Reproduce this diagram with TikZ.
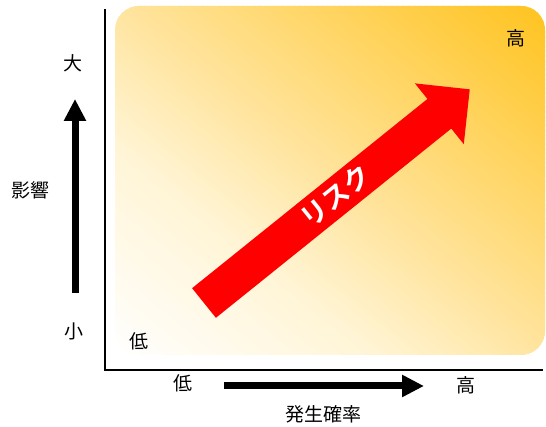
\documentclass[tikz,border=0pt]{standalone}
\usepackage{fontspec}
\setmainfont{Noto Sans CJK JP}
\newfontfamily\jpbold{Noto Sans CJK JP Bold}
\usetikzlibrary{arrows.meta}
\tikzset{
  lbl/.style={inner sep=0pt, font=\fontsize{19}{21}\selectfont},
  axisline/.style={line width=2.6pt, line cap=rect},
  dirarrow/.style={line width=7pt, -{Triangle[length=22pt,width=21pt]}},
}
\begin{document}
\begin{tikzpicture}[x=1pt,y=1pt]
\useasboundingbox (0,0) rectangle (546,427);
% background panel: diagonal gradient built from thin strips
\begin{scope}
  \clip[rounded corners=24pt] (115,72) rectangle (545,421);
  \fill[white] (115,72) rectangle (545,421);
  \begin{scope}[cm={430,0,0,349,(115,72)}]
    \foreach \i in {0,...,149}{
      \pgfmathsetmacro\tm{(\i+0.5)/150}
      \pgfmathsetmacro\ta{\i/150}
      \pgfmathsetmacro\tb{\i==149 ? 1.3 : (\i+1.6)/150}
      \pgfmathtruncatemacro\gv{\tm<0.3 ? 255-10*\tm/0.3 : (\tm<0.5 ? 245-16*(\tm-0.3)/0.2 : (\tm<0.75 ? 229-17*(\tm-0.5)/0.25 : 212-16*(\tm-0.75)/0.25))}
      \pgfmathtruncatemacro\bv{\tm<0.3 ? 255-41*\tm/0.3 : (\tm<0.5 ? 214-54*(\tm-0.3)/0.2 : (\tm<0.75 ? 160-65*(\tm-0.5)/0.25 : 95-63*(\tm-0.75)/0.25))}
      \definecolor{stripc}{RGB}{255,\gv,\bv}
      \fill[stripc] ({2*\ta+2},-2) -- ({2*\ta-2},2) -- ({2*\tb-2},2) -- ({2*\tb+2},-2) -- cycle;
    }
  \end{scope}
\end{scope}
% axes
\coordinate (o) at (105,57);
\coordinate (ytop) at (105,417);
\coordinate (xend) at (542,57);
\draw[axisline] (ytop) -- (o) -- (xend);
% vertical arrow
\coordinate (va) at (75,134);
\coordinate (vb) at (75,328);
\draw[dirarrow] (va) -- (vb);
% horizontal arrow
\coordinate (ha) at (224,41);
\coordinate (hb) at (424,41);
\draw[dirarrow] (ha) -- (hb);
% labels
\node[lbl] (big) at (73,364) {大};
\node[lbl] (small) at (74,96) {小};
\node[lbl] (infl) at (31,237) {影響};
\node[lbl] (lowin) at (139,86) {低};
\node[lbl] (highin) at (516,389) {高};
\node[lbl] (lowx) at (183,44) {低};
\node[lbl] (highx) at (466,42) {高};
\node[lbl] (prob) at (323,13) {発生確率};
% big red arrow
\begin{scope}[shift={(204,124)}, rotate=38.8]
  \fill[red] (0,-19) -- (302,-19) -- (302,-39) -- (341,0) -- (302,39) -- (302,19) -- (0,19) -- cycle;
  \node[text=white, inner sep=0pt, rotate=38.8, font=\jpbold\fontsize{27}{30}\selectfont] (risk) at (170,1) {リスク};
\end{scope}
\end{tikzpicture}
\end{document}
